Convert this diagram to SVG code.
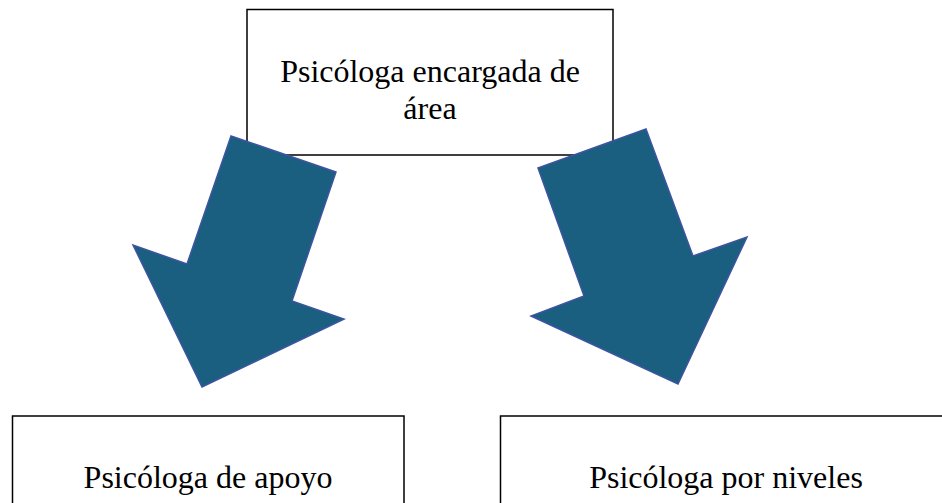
<svg xmlns="http://www.w3.org/2000/svg" width="942" height="503" viewBox="0 0 942 503">
<style>
.box{fill:#fff;stroke:#000;stroke-width:1.5}
.lbl{font-family:"Liberation Serif","Times New Roman",serif;font-size:32px;fill:#000;text-anchor:middle}
.arrow{fill:#1a5e80;stroke:#3d55a0;stroke-width:1.5;stroke-linejoin:miter}
</style>
<rect width="942" height="503" fill="#fff"/>
<g id="node-top">
<rect class="box" x="247" y="9.5" width="366" height="145.5"/>
<text class="lbl" x="430" y="82">Psicóloga encargada de</text>
<text class="lbl" x="430" y="119">área</text>
</g>
<g id="node-left">
<rect class="box" x="12.5" y="416" width="391.5" height="100"/>
<text class="lbl" x="208" y="488">Psicóloga de apoyo</text>
</g>
<g id="node-right">
<rect class="box" x="500.5" y="416" width="452" height="100"/>
<text class="lbl" x="726" y="488">Psicóloga por niveles</text>
</g>
<g id="connectors">
<polygon class="arrow" points="231,136 336,172 292,301 344,319 202,387 133,245 187,264"/>
<polygon class="arrow" points="538,168 646,129 693,256 747,237 678,384 531,316 584,296"/>
</g>
</svg>
